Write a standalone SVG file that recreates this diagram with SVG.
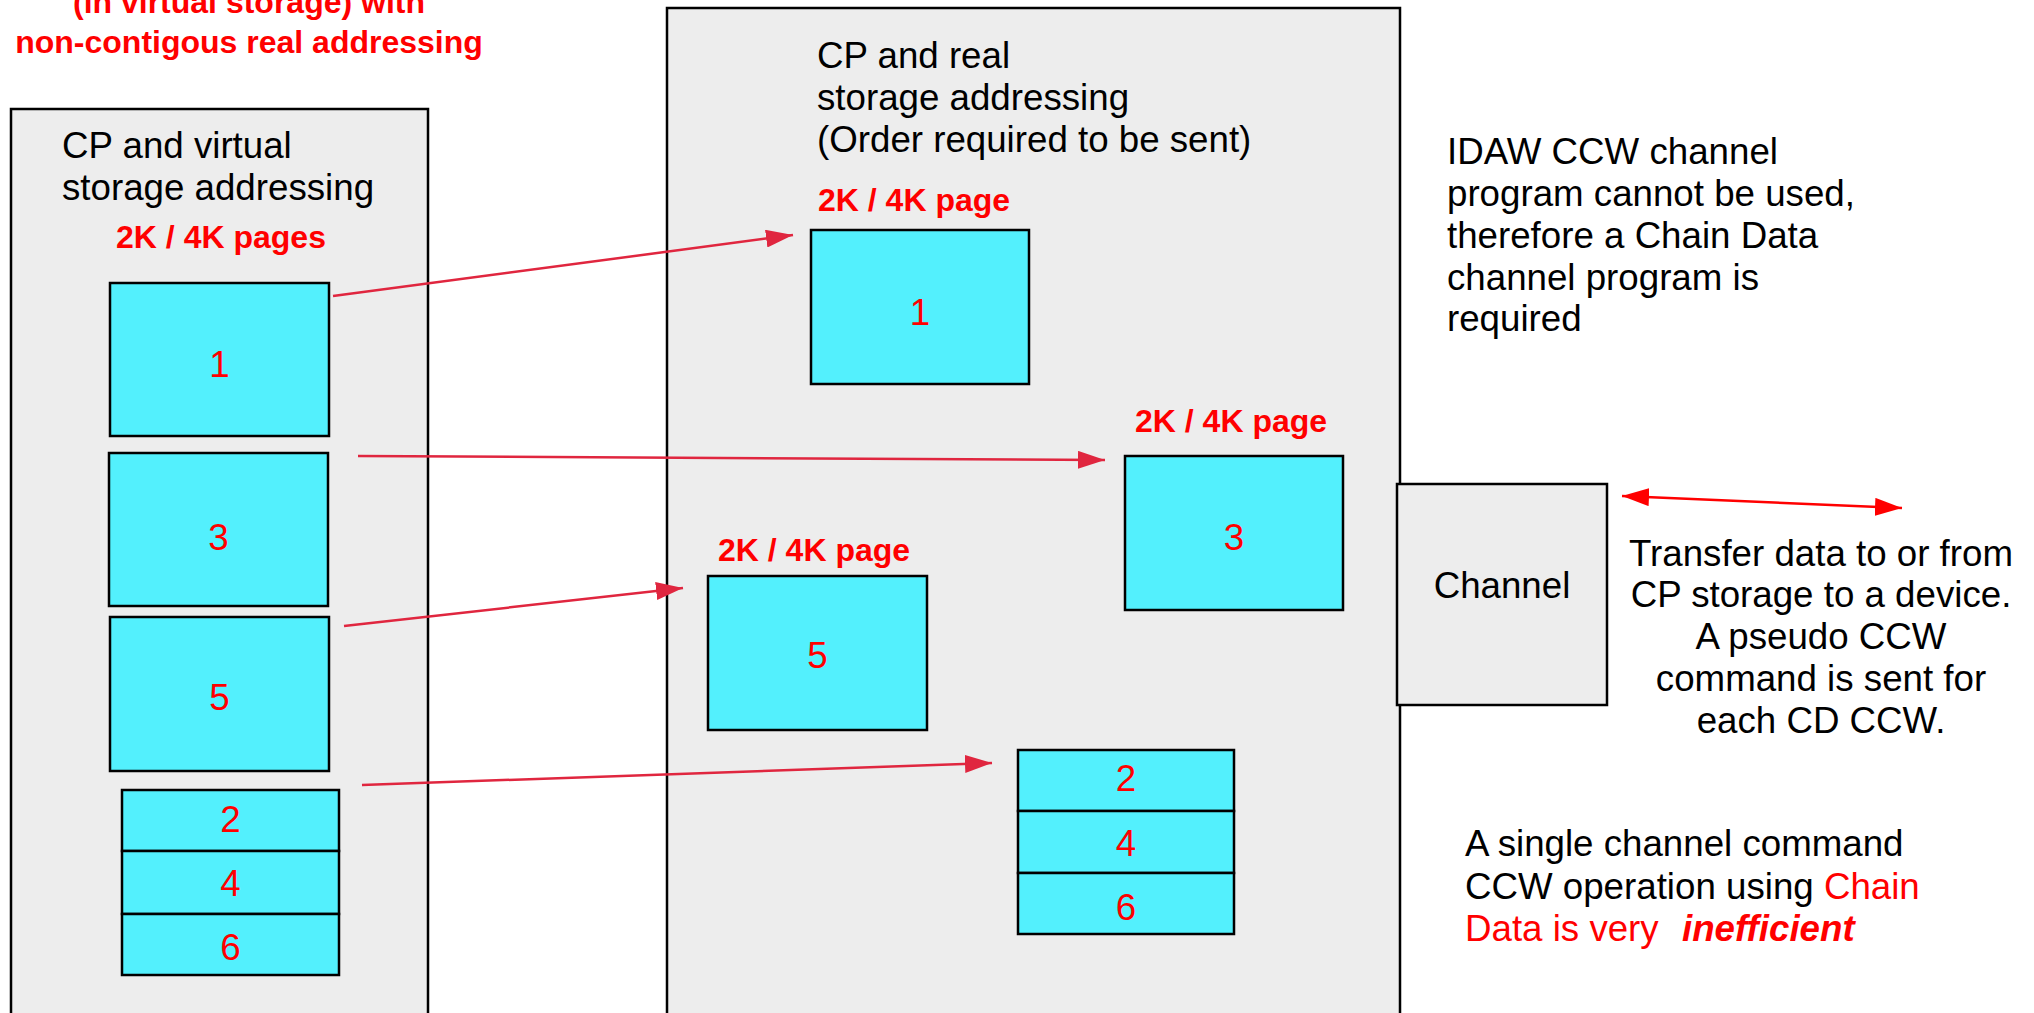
<svg xmlns="http://www.w3.org/2000/svg" width="2034" height="1013" viewBox="0 0 2034 1013">
<defs>
<style>
text{font-family:"Liberation Sans",Arial,sans-serif;font-size:36.7px;fill:#000}
.red{fill:#ff0000}
.bold{font-weight:bold;font-size:32px;fill:#ff0000}
.num{fill:#ff0000;text-anchor:middle}
.panel{fill:#ededed;stroke:#000;stroke-width:2.5}
.page{fill:#53f0fd;stroke:#000;stroke-width:2.5}
.conn{stroke:#e0263f;stroke-width:2.5;fill:none}
.dbl{stroke:#ff0000;stroke-width:2.5;fill:none}
</style>
<marker id="ah" markerUnits="userSpaceOnUse" markerWidth="28" markerHeight="18" viewBox="0 0 28 18" refX="27" refY="9" orient="auto">
<path d="M0,0 L27,9 L0,18 Z" fill="#e0263f"/>
</marker>
<marker id="ahr" markerUnits="userSpaceOnUse" markerWidth="28" markerHeight="18" viewBox="0 0 28 18" refX="27" refY="9" orient="auto-start-reverse">
<path d="M0,0 L27,9 L0,18 Z" fill="#ff0000"/>
</marker>
</defs>
<rect width="2034" height="1013" fill="#fff"/>

<g id="title">
<text class="bold" x="249" y="13" text-anchor="middle">(in virtual storage) with</text>
<text class="bold" x="249" y="53" text-anchor="middle">non-contigous real addressing</text>
</g>

<g id="virtual-storage">
<rect class="panel" x="11" y="109" width="417" height="960"/>
<text x="62" y="158">CP and virtual</text>
<text x="62" y="200">storage addressing</text>
<text class="bold" x="221" y="248" text-anchor="middle">2K / 4K pages</text>
</g>
<g id="v-page1"><rect class="page" x="110" y="283" width="219" height="153"/><text class="num" x="219.5" y="377">1</text></g>
<g id="v-page3"><rect class="page" x="109" y="453" width="219" height="153"/><text class="num" x="218.5" y="550">3</text></g>
<g id="v-page5"><rect class="page" x="110" y="617" width="219" height="154"/><text class="num" x="219.5" y="710">5</text></g>
<g id="v-stack">
<rect class="page" x="122" y="790" width="217" height="61"/><text class="num" x="230.5" y="832">2</text>
<rect class="page" x="122" y="851" width="217" height="63"/><text class="num" x="230.5" y="896">4</text>
<rect class="page" x="122" y="914" width="217" height="61"/><text class="num" x="230.5" y="960">6</text>
</g>

<g id="real-storage">
<rect class="panel" x="667" y="8" width="733" height="1060"/>
<text x="817" y="68">CP and real</text>
<text x="817" y="110">storage addressing</text>
<text x="817" y="152">(Order required to be sent)</text>
</g>
<g id="r-page1"><text class="bold" x="818" y="211">2K / 4K page</text><rect class="page" x="811" y="230" width="218" height="154"/><text class="num" x="920" y="325">1</text></g>
<g id="r-page3"><text class="bold" x="1135" y="432">2K / 4K page</text><rect class="page" x="1125" y="456" width="218" height="154"/><text class="num" x="1234" y="550">3</text></g>
<g id="r-page5"><text class="bold" x="718" y="561">2K / 4K page</text><rect class="page" x="708" y="576" width="219" height="154"/><text class="num" x="817.5" y="668">5</text></g>
<g id="r-stack">
<rect class="page" x="1018" y="750" width="216" height="61"/><text class="num" x="1126" y="791">2</text>
<rect class="page" x="1018" y="811" width="216" height="62"/><text class="num" x="1126" y="856">4</text>
<rect class="page" x="1018" y="873" width="216" height="61"/><text class="num" x="1126" y="920">6</text>
</g>

<g id="idaw-note">
<text x="1447" y="164">IDAW CCW channel</text>
<text x="1447" y="206">program cannot be used,</text>
<text x="1447" y="248">therefore a Chain Data</text>
<text x="1447" y="290">channel program is</text>
<text x="1447" y="331">required</text>
</g>

<g id="channel">
<rect class="panel" x="1397" y="484" width="210" height="221"/>
<text x="1502" y="598" text-anchor="middle">Channel</text>
</g>

<g id="transfer-note" text-anchor="middle">
<text x="1821" y="566">Transfer data to or from</text>
<text x="1821" y="607">CP storage to a device.</text>
<text x="1821" y="649">A pseudo CCW</text>
<text x="1821" y="691">command is sent for</text>
<text x="1821" y="733">each CD CCW.</text>
</g>

<g id="inefficient-note">
<text x="1465" y="856">A single channel command</text>
<text x="1465" y="899">CCW operation using <tspan class="red">Chain</tspan></text>
<text x="1465" y="941"><tspan class="red">Data is very</tspan><tspan class="red" x="1682" font-weight="bold" font-style="italic">inefficient</tspan></text>
</g>

<g id="connectors">
<line class="conn" x1="333" y1="296" x2="793" y2="235" marker-end="url(#ah)"/>
<line class="conn" x1="358" y1="456" x2="1105" y2="460" marker-end="url(#ah)"/>
<line class="conn" x1="344" y1="626" x2="683" y2="588" marker-end="url(#ah)"/>
<line class="conn" x1="362" y1="785" x2="992" y2="763" marker-end="url(#ah)"/>
<line class="dbl" x1="1622" y1="496" x2="1902" y2="508" marker-start="url(#ahr)" marker-end="url(#ahr)"/>
</g>
</svg>
